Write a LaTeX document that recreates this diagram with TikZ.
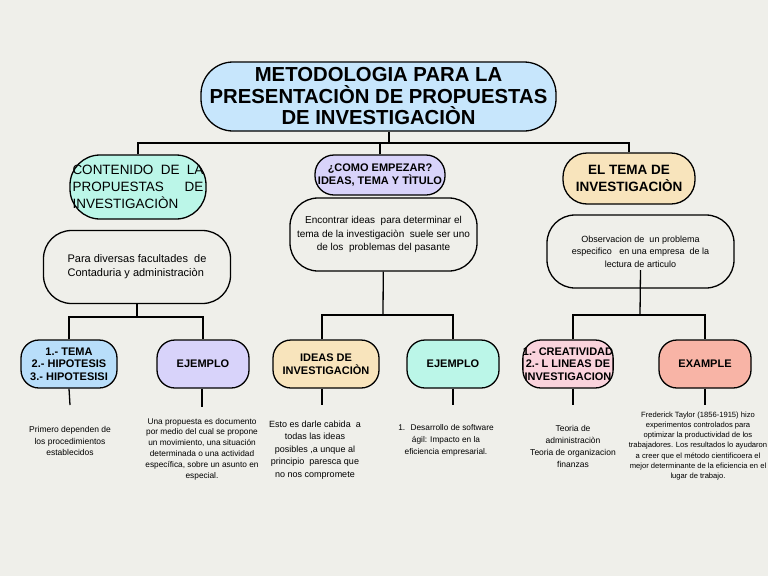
\documentclass[tikz,border=0pt]{standalone}
\usepackage{fontspec}
\setmainfont{Liberation Sans}
\definecolor{fondo}{RGB}{239,239,234}
\definecolor{celeste}{RGB}{199,230,252}
\definecolor{azul}{RGB}{184,222,250}
\definecolor{menta}{RGB}{187,246,232}
\definecolor{lila}{RGB}{216,211,250}
\definecolor{durazno}{RGB}{248,228,188}
\definecolor{rosa}{RGB}{250,211,220}
\definecolor{salmon}{RGB}{248,180,166}
\begin{document}
\begin{tikzpicture}[x=1pt, y=-1pt, line width=1.3pt,
  titulo/.style={draw, fill=celeste, rounded corners=32pt, inner sep=0pt, align=center,
    minimum width=355pt, minimum height=69pt, font=\bfseries\fontsize{20.3}{21.5}\selectfont},
  tema/.style={draw, rounded corners=20pt, inner sep=0pt, align=center,
    font=\bfseries\fontsize{12.5}{16}\selectfont},
  texto/.style={draw, rounded corners=28pt, inner sep=0pt, align=center,
    minimum width=187pt, minimum height=73pt, font=\fontsize{10}{13.5}\selectfont},
  sub/.style={draw, rounded corners=18pt, inner sep=0pt, align=center,
    minimum height=48pt, font=\bfseries\fontsize{11}{12.5}\selectfont},
  nota/.style={inner sep=0pt, align=center}]
  \fill[fondo] (0,0) rectangle (768,576);
  \useasboundingbox (0,0) rectangle (768,576);
  % titulo
  \node [titulo] (meta) at (378.5,96.5) {METODOLOGIA PARA LA\\PRESENTACIÒN DE PROPUESTAS\\DE INVESTIGACIÒN};
  % primer nivel
  \node [tema, fill=menta, minimum width=136pt, minimum height=64pt, rounded corners=30pt,
    font=\fontsize{13.5}{17}\selectfont, align=left] (cont) at (138,187)
    {\makebox[131pt][s]{CONTENIDO DE LA}\\\makebox[131pt][s]{PROPUESTAS DE}\\INVESTIGACIÒN};
  \node [tema, fill=lila, minimum width=130pt, minimum height=40pt, rounded corners=19pt,
    font=\bfseries\fontsize{11}{13}\selectfont] (como) at (380,175) {¿COMO EMPEZAR?\\IDEAS, TEMA Y TÌTULO};
  \node [tema, fill=durazno, minimum width=132pt, minimum height=51pt, rounded corners=24pt,
    font=\bfseries\fontsize{13.5}{17}\selectfont] (elt) at (629,178.5) {EL TEMA DE\\INVESTIGACIÒN};
  % segundo nivel
  \node [texto, align=left, font=\fontsize{11}{14}\selectfont] (para) at (137,267) {Para diversas facultades \ de\\Contaduria y administraciòn};
  \node [texto] (enc) at (383.5,234.5) {Encontrar ideas \ para determinar el\\tema de la investigaciòn \ suele ser uno\\de los \ problemas del pasante};
  \node [texto, font=\fontsize{9}{12.5}\selectfont] (obs) at (640.5,251.5) {Observacion de \ un problema\\especifico \ \ en una empresa \ de la\\lectura de articulo};
  % tercer nivel
  \node [sub, fill=azul, minimum width=96pt] (tem) at (69,364) {1.- TEMA\\2.- HIPOTESIS\\3.- HIPOTESISI};
  \node [sub, fill=lila, minimum width=92pt] (ej1) at (203,364) {EJEMPLO};
  \node [sub, fill=durazno, minimum width=106pt] (ide) at (326,364) {IDEAS DE\\INVESTIGACIÒN};
  \node [sub, fill=menta, minimum width=92pt] (ej2) at (453,364) {EJEMPLO};
  \node [sub, fill=rosa, minimum width=86pt] (cre) at (568,364) {1.- CREATIVIDAD\\2.- L LINEAS DE\\INVESTIGACION};
  \node [sub, fill=salmon, minimum width=92pt] (exa) at (705,364) {EXAMPLE};
  % notas
  \node [nota, font=\fontsize{8.5}{11.5}\selectfont] (n1) at (70,441) {Primero dependen de\\los procedimientos\\establecidos};
  \node [nota, font=\fontsize{8.3}{10.8}\selectfont] (n2) at (202,449) {Una propuesta es documento\\por medio del cual se propone\\un movimiento, una situación\\determinada o una actividad\\específica, sobre un asunto en\\especial.};
  \node [nota, font=\fontsize{9}{12.5}\selectfont] (n3) at (315,450) {Esto es darle cabida \ a\\todas las ideas\\posibles ,a unque al\\principio \ paresca que\\no nos compromete};
  \node [nota, font=\fontsize{8.3}{12}\selectfont] (n4) at (446,440) {1. \ Desarrollo de software\\ágil: Impacto en la\\eficiencia empresarial.};
  \node [nota, font=\fontsize{8.5}{12}\selectfont] (n5) at (573,446) {Teoria de\\administraciòn\\Teoria de organizacion\\finanzas};
  \node [nota, font=\fontsize{7.6}{10.2}\selectfont] (n6) at (698,446) {Frederick Taylor (1856-1915) hizo\\experimentos controlados para\\optimizar la productividad de los\\trabajadores. Los resultados lo ayudaron\\a creer que el método cientificoera el\\mejor determinante de la eficiencia en el\\lugar de trabajo.};
  % uniones
  \coordinate (jt) at (389,143);
  \coordinate (j1) at (137,317);
  \coordinate (j2) at (383,315);
  \coordinate (j3) at (640,315);
  \draw (jt |- meta.south) -- (jt);
  \draw (cont) |- (jt) -| (elt);
  \draw (como.north) -- (como.north |- jt);
  \draw (para) -- (j1);
  \draw (enc) -- (j2);
  \draw ([yshift=-18.5pt]obs.center) -- (j3);
  \draw (tem) |- (j1) -| (ej1);
  \draw (ide.north -| 322,0) |- (j2) -| (ej2);
  \draw (cre.north -| 573,0) |- (j3) -| (exa);
  % ramas a las notas
  \coordinate (s1) at (70,405);
  \coordinate (s2) at (202,407);
  \coordinate (s3) at (322,405);
  \coordinate (s4) at (453,405);
  \coordinate (s5) at (573,405);
  \coordinate (s6) at (705,405);
  \draw (tem.south) -- (s1);
  \draw (s2 |- ej1.south) -- (s2);
  \draw (s3 |- ide.south) -- (s3);
  \draw (s4 |- ej2.south) -- (s4);
  \draw (s5 |- cre.south) -- (s5);
  \draw (s6 |- exa.south) -- (s6);
\end{tikzpicture}
\end{document}
